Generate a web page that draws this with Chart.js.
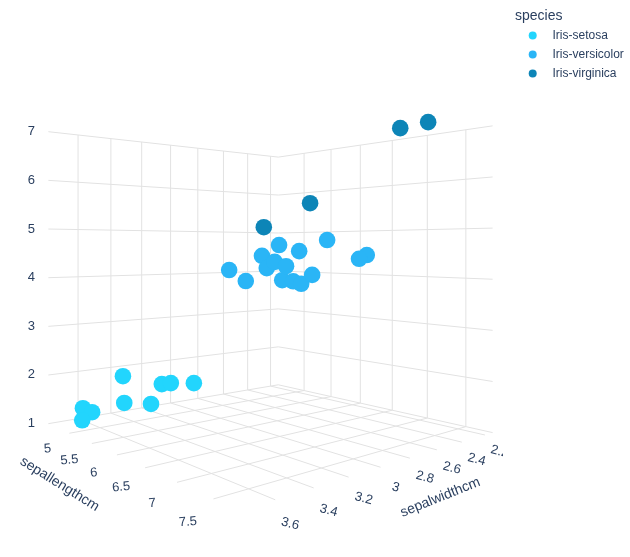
<!DOCTYPE html>
<html>
<head>
<meta charset="utf-8">
<script src="https://cdn.jsdelivr.net/npm/chart.js@4.4.0/dist/chart.umd.min.js"></script>
<style>
  html, body { margin: 0; padding: 0; background: #fff; }
  canvas { display: block; }
</style>
</head>
<body>
<canvas id="irisChart" width="630" height="557"></canvas>
<script>
// --- data ---
const species = ["Iris-setosa", "Iris-versicolor", "Iris-virginica"];

const setosaSepalLength = [4.60, 4.82, 5.00, 4.76, 4.79, 5.36, 5.25, 5.43, 4.98];
const setosaSepalWidth  = [3.6, 3.6, 3.7, 3.4, 3.4, 3.4, 3.3, 3.3, 3.0];
const setosaPetalLength = [1.26, 1.25, 1.21, 1.88, 1.32, 1.48, 1.80, 1.87, 1.60];

const versicolorSepalLength = [5.66, 5.70, 5.98, 6.26, 6.19, 6.06, 6.37, 6.57, 6.31, 6.48, 6.60, 6.76, 6.97, 6.29, 6.23];
const versicolorSepalWidth  = [3.0, 2.9, 2.9, 2.9, 2.9, 2.9, 2.9, 2.9, 2.9, 2.9, 2.9, 2.9, 2.9, 2.3, 2.2];
const versicolorPetalLength = [4.15, 3.91, 4.45, 4.67, 4.33, 4.20, 4.25, 4.55, 3.97, 3.96, 3.92, 4.10, 4.76, 4.37, 4.45];

const virginicaSepalLength = [6.25, 6.94, 7.71, 7.72];
const virginicaSepalWidth  = [3.0, 3.0, 2.8, 2.6];
const virginicaPetalLength = [5.02, 5.43, 6.70, 6.89];

const slRange = [4.48, 7.82];
const swRange = [2.13, 3.77];
const plRange = [1, 7];
const slTicks = [5, 5.5, 6, 6.5, 7, 7.5];
const swTicks = [2.2, 2.4, 2.6, 2.8, 3, 3.2, 3.4, 3.6];
const plTicks = [1, 2, 3, 4, 5, 6, 7];

// --- look ---
const colors = ["#22d5fd", "#2ab5f6", "#0d85b7"];
const textColor = "#2a3f5f";
const gridColor = "#e2e2e2";
const fontFamily = '"Liberation Sans", Arial, sans-serif';

const W = 630, H = 557;
const camera = { dist: 4.49, azimuth: 49.5, eyeZ: 0.199, focal: 707, cx: 265, cy: 247.1 };
const zAspect = 0.95;
const sceneClipRight = 503;

function norm(v, range) {
  return 2 * (v - range[0]) / (range[1] - range[0]) - 1;
}

// scene coords: x = sepal width, y = sepal length, z = petal length
function toScene(sw, sl, pl) {
  return [norm(sw, swRange), norm(sl, slRange), zAspect * norm(pl, plRange)];
}

function project(p) {
  const a = camera.azimuth * Math.PI / 180;
  const sa = Math.sin(a), ca = Math.cos(a);
  const lat = -p[0] * sa + p[1] * ca;
  const depth = camera.dist - (p[0] * ca + p[1] * sa);
  return { x: lat / depth, y: (p[2] - camera.eyeZ) / depth, depth: depth };
}

function buildPoints(sl, sw, pl) {
  const pts = sl.map((v, i) => project(toScene(sw[i], v, pl[i])));
  pts.sort((a, b) => b.depth - a.depth); // far points first
  return pts.map(p => ({ x: p.x, y: p.y }));
}

const seriesSl = [setosaSepalLength, versicolorSepalLength, virginicaSepalLength];
const seriesSw = [setosaSepalWidth, versicolorSepalWidth, virginicaSepalWidth];
const seriesPl = [setosaPetalLength, versicolorPetalLength, virginicaPetalLength];

const datasets = species.map((name, i) => ({
  label: name,
  data: buildPoints(seriesSl[i], seriesSw[i], seriesPl[i]),
  backgroundColor: colors[i],
  borderWidth: 0,
  pointRadius: 8.3,
  pointHoverRadius: 8.3
}));

function toPixel(chart, p3) {
  const p = project(p3);
  return [chart.scales.x.getPixelForValue(p.x), chart.scales.y.getPixelForValue(p.y)];
}

function drawText(ctx, text, pos, angle, size, align) {
  ctx.save();
  ctx.translate(pos[0], pos[1]);
  ctx.rotate(angle * Math.PI / 180);
  ctx.font = size + "px " + fontFamily;
  ctx.fillStyle = textColor;
  ctx.textAlign = align || "center";
  ctx.textBaseline = "middle";
  ctx.fillText(text, 0, 0);
  ctx.restore();
}

const scenePlugin = {
  id: "scene3d",
  beforeDatasetsDraw(chart) {
    const ctx = chart.ctx;
    const k = zAspect;
    const segs = [];
    swTicks.forEach(t => {
      const x = norm(t, swRange);
      segs.push([[x, -1, -k], [x, -1, k]]);
      segs.push([[x, -1, -k], [x, 1, -k]]);
    });
    slTicks.forEach(t => {
      const y = norm(t, slRange);
      segs.push([[-1, y, -k], [-1, y, k]]);
      segs.push([[-1, y, -k], [1, y, -k]]);
    });
    plTicks.forEach(t => {
      const z = zAspect * norm(t, plRange);
      segs.push([[1, -1, z], [-1, -1, z]]);
      segs.push([[-1, -1, z], [-1, 1, z]]);
    });
    ctx.save();
    ctx.strokeStyle = gridColor;
    ctx.lineWidth = 1;
    ctx.beginPath();
    segs.forEach(s => {
      const a = toPixel(chart, s[0]), b = toPixel(chart, s[1]);
      ctx.moveTo(a[0], a[1]);
      ctx.lineTo(b[0], b[1]);
    });
    ctx.stroke();
    ctx.restore();
  },
  afterDatasetsDraw(chart) {
    const ctx = chart.ctx;
    const k = zAspect;

    plTicks.forEach(t => {
      drawText(ctx, String(t), toPixel(chart, [1.08, -1.08, zAspect * norm(t, plRange)]), 0, 13);
    });
    slTicks.forEach(t => {
      drawText(ctx, String(t), toPixel(chart, [1.14, norm(t, slRange), -k - 0.07]), -5, 13);
    });
    ctx.save();
    ctx.beginPath();
    ctx.rect(0, 0, sceneClipRight, H);
    ctx.clip();
    swTicks.forEach(t => {
      drawText(ctx, String(t), toPixel(chart, [norm(t, swRange), 1.1, -k - 0.08]), 15, 13);
    });
    ctx.restore();

    drawText(ctx, "sepallengthcm", toPixel(chart, [1.32, -0.12, -k - 0.1]), 32, 14);
    drawText(ctx, "sepalwidthcm", toPixel(chart, [-0.04, 1.3, -k - 0.1]), -22, 14);

    // legend
    drawText(ctx, "species", [515, 16], 0, 14, "left");
    species.forEach((name, i) => {
      const y = 35.5 + i * 19;
      ctx.beginPath();
      ctx.fillStyle = colors[i];
      ctx.arc(532.7, y, 4, 0, Math.PI * 2);
      ctx.fill();
      drawText(ctx, name, [552.5, y], 0, 12, "left");
    });
  }
};

const ctx = document.getElementById("irisChart").getContext("2d");
const chart = new Chart(ctx, {
  type: "scatter",
  data: { datasets: datasets },
  options: {
    responsive: false,
    animation: false,
    layout: { padding: 0, autoPadding: false },
    plugins: { legend: { display: false }, tooltip: { enabled: false } },
    scales: {
      x: { type: "linear", display: false, min: -camera.cx / camera.focal, max: (W - camera.cx) / camera.focal },
      y: { type: "linear", display: false, min: (camera.cy - H) / camera.focal, max: camera.cy / camera.focal }
    }
  },
  plugins: [scenePlugin]
});
</script>
</body>
</html>
